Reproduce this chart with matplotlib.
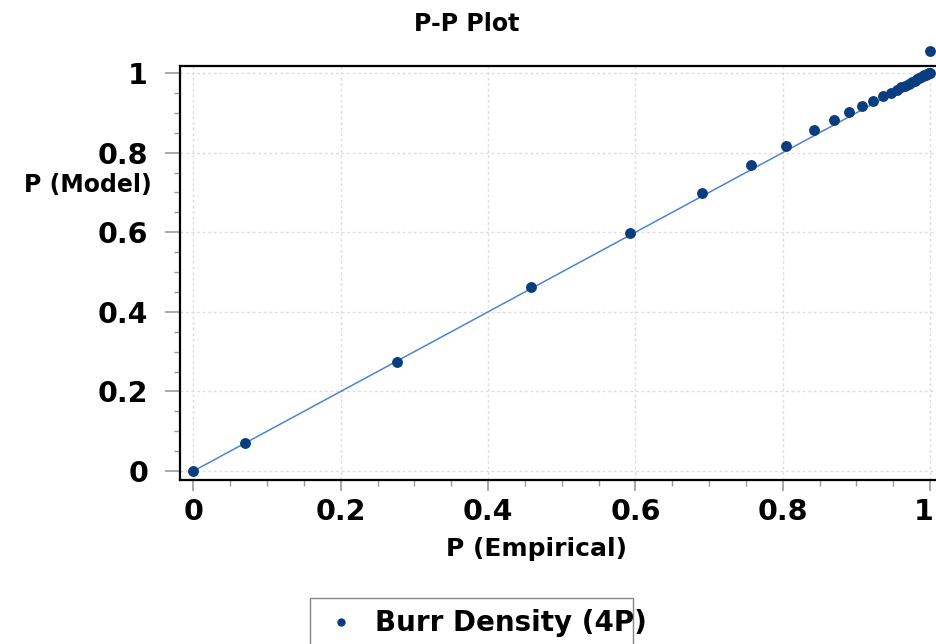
import matplotlib
matplotlib.use("Agg")
import matplotlib.pyplot as plt
import matplotlib.transforms as mtransforms
from matplotlib.patches import Rectangle
from matplotlib.ticker import MultipleLocator

# the original text is wide and heavy, DejaVu Sans Bold is the closest match
plt.rcParams['font.family'] = ['DejaVu Sans']

# P-P data (empirical vs model probabilities)
p_empirical = [0.0, 0.070, 0.276, 0.458, 0.593, 0.691, 0.757, 0.805, 0.843, 0.870,
               0.890, 0.908, 0.923, 0.936, 0.947, 0.955, 0.961, 0.966, 0.971, 0.975,
               0.979, 0.982, 0.985, 0.988, 0.990, 0.992, 0.994, 0.996, 0.998, 0.999, 1.0]
p_model = [0.0, 0.070, 0.274, 0.463, 0.598, 0.699, 0.769, 0.816, 0.857, 0.882,
           0.902, 0.917, 0.930, 0.942, 0.951, 0.958, 0.964, 0.968, 0.973, 0.977,
           0.981, 0.984, 0.987, 0.990, 0.992, 0.994, 0.996, 0.997, 0.999, 1.0, 1.0]
outlier_x = [1.0]
outlier_y = [1.055]
ref_line = [0.0, 1.0]
x_ticks = [0, 0.2, 0.4, 0.6, 0.8, 1]
x_tick_labels = ["0", "0.2", "0.4", "0.6", "0.8", "1"]
y_ticks = [0, 0.2, 0.4, 0.6, 0.8, 1]
y_tick_labels = ["0", "0.2", "0.4", "0.6", "0.8", "1"]

point_color = "#0a3d7e"
line_color = "#4c84d6"

fig = plt.figure(figsize=(9.36, 6.44), dpi=100)
ax = fig.add_axes([180 / 936, 1 - 480 / 644, 1 - 180 / 936, (480 - 66) / 644])

# reference line and points
ax.plot(ref_line, ref_line, color=line_color, lw=1.1, zorder=2)
ax.plot(p_empirical, p_model, 'o', color=point_color, ms=6.8, zorder=3, clip_on=False)
ax.plot(outlier_x, outlier_y, 'o', color=point_color, ms=6.8, zorder=3, clip_on=False)

ax.set_xlim(-0.0183, 1.008)
ax.set_ylim(-0.0226, 1.0176)

ax.set_xticks(x_ticks)
ax.set_xticklabels(x_tick_labels)
ax.set_yticks(y_ticks)
ax.set_yticklabels(y_tick_labels)
ax.xaxis.set_minor_locator(MultipleLocator(0.05))
ax.yaxis.set_minor_locator(MultipleLocator(0.05))

ax.tick_params(which='major', width=1.2, color='#999999', labelsize=20.5)
ax.tick_params(axis='x', which='major', length=8, pad=5)
ax.tick_params(axis='y', which='major', length=11, pad=12)
ax.tick_params(which='minor', length=4.5, width=1.0, color='#999999')
for lab in ax.get_xticklabels() + ax.get_yticklabels():
    lab.set_fontweight('bold')

# last x label sits right at the figure edge, nudge it in a little
last = ax.get_xticklabels()[-1]
last.set_transform(last.get_transform() +
                   mtransforms.ScaledTranslation(-6 / 100, 0, fig.dpi_scale_trans))

ax.grid(True, which='major', color='#dddddd', linestyle=(0, (2, 2)), lw=1.0)
ax.set_axisbelow(True)

for side in ['left', 'bottom', 'top']:
    ax.spines[side].set_linewidth(1.6)
    ax.spines[side].set_color('black')
ax.spines['right'].set_visible(False)

# titles and labels
fig.text(467 / 936, 1 - 24 / 644, "P-P Plot", ha='center', va='center',
         fontsize=17, fontweight='bold')
fig.text(537 / 936, 1 - 549 / 644, "P (Empirical)", ha='center', va='center',
         fontsize=18, fontweight='bold')
fig.text(152 / 936, 1 - 185 / 644, "P (Model)", ha='right', va='center',
         fontsize=17, fontweight='bold')

# legend box (text runs past the frame as in the original)
fig.patches.append(Rectangle((310 / 936, -0.05), (633 - 310) / 936, 0.05 + (644 - 598) / 644,
                             transform=fig.transFigure, fill=False,
                             edgecolor='#888888', lw=1.0))
fig.lines.append(plt.Line2D([341 / 936], [1 - 622 / 644], marker='o', ms=5,
                            color=point_color, transform=fig.transFigure))
fig.text(375 / 936, 1 - 623 / 644, "Burr Density (4P)", ha='left', va='center',
         fontsize=20, fontweight='bold')

fig.savefig("out.png", dpi=100)
